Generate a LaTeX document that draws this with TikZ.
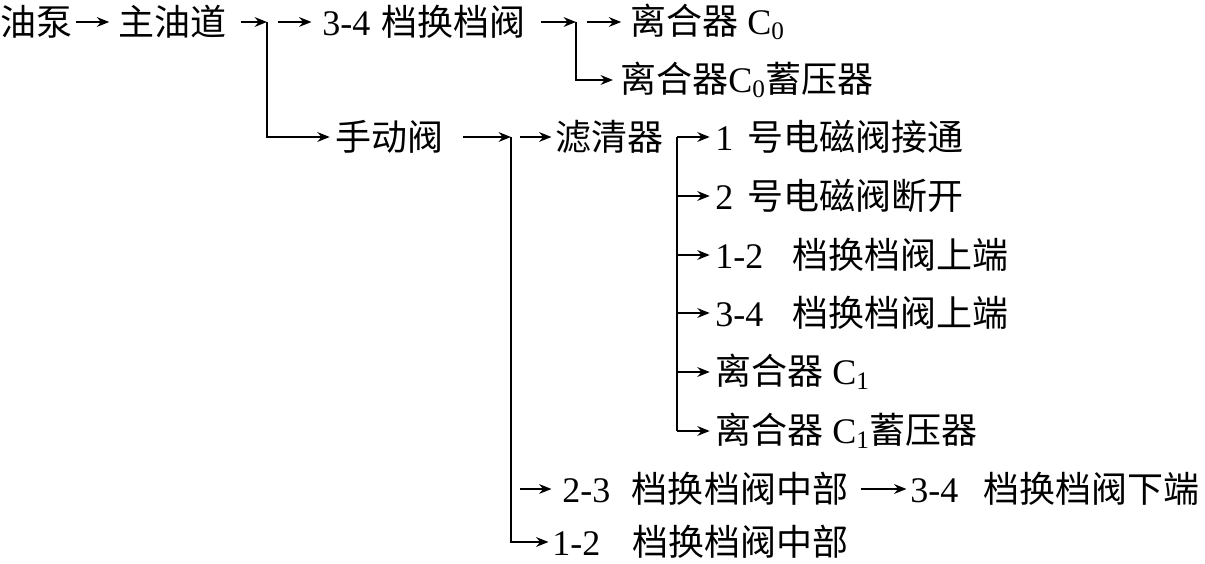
\documentclass[tikz,border=0pt]{standalone}
\usepackage{fontspec}
\setmainfont{Liberation Serif}
\newfontfamily\cjk{Noto Sans CJK SC}
\usetikzlibrary{arrows.meta}

\newcommand{\zh}[1]{{\cjk #1}}

\tikzset{
  txt/.style={anchor=west, inner sep=0pt, font=\fontsize{20.5}{24}\selectfont},
  conn/.style={line width=1.1pt},
  arr/.style={conn, -{Stealth[length=7pt,width=5.5pt]}}
}

\begin{document}
\begin{tikzpicture}[x=0.02cm, y=-0.02cm]
        \useasboundingbox (0,0) rectangle (1205,564);

        % Labels
        \node (pump) at (0,22) [txt] {\zh{油泵}};
        \node (main) at (118,22) [txt] {\zh{主油道}};
        \node (v34) at (322,22) [txt] {3-4\hspace{0.3em}\zh{档换档阀}};
        \node (c0) at (630,22) [txt] {\zh{离合器} C\textsubscript{0}};
        \node (c0acc) at (620,80) [txt] {\zh{离合器}C\textsubscript{0}\zh{蓄压器}};
        \node (manual) at (335,137) [txt] {\zh{手动阀}};
        \node (filter) at (555,137) [txt] {\zh{滤清器}};
        \node (s1) at (715,137) [txt] {1\hspace{0.4em}\zh{号电磁阀接通}};
        \node (s2) at (715,196) [txt] {2\hspace{0.4em}\zh{号电磁阀断开}};
        \node (v12top) at (715,255) [txt] {1-2\hspace{0.8em}\zh{档换档阀上端}};
        \node (v34top) at (715,313) [txt] {3-4\hspace{0.8em}\zh{档换档阀上端}};
        \node (c1) at (715,372) [txt] {\zh{离合器} C\textsubscript{1}};
        \node (c1acc) at (715,431) [txt] {\zh{离合器} C\textsubscript{1}\zh{蓄压器}};
        \node (v23mid) at (562,489) [txt] {2-3\hspace{0.6em}\zh{档换档阀中部}};
        \node (v34low) at (910,489) [txt] {3-4\hspace{0.7em}\zh{档换档阀下端}};
        \node (v12mid) at (552,542) [txt] {1-2\hspace{0.9em}\zh{档换档阀中部}};

        % Junctions
        \coordinate (j1) at (267,22);
        \coordinate (j2) at (576,22);
        \coordinate (j3) at (511,137);
        \coordinate (j4) at (677,137);

        % Connectors
        \draw[arr, shorten <=2pt, shorten >=5pt] (pump) -- (main);
        \draw[arr, shorten <=8pt] (main) -- (j1);
        \draw[arr, shorten <=6pt, shorten >=6pt] (j1) -- (v34);
        \draw[arr, shorten >=3pt] (j1) |- (manual);
        \draw[arr, shorten <=9pt] (v34) -- (j2);
        \draw[arr, shorten <=6pt, shorten >=5pt] (j2) -- (c0);
        \draw[arr, shorten >=4pt] (j2) |- (c0acc);
        \draw[arr, shorten <=11pt] (manual) -- (j3);
        \draw[arr, shorten <=5pt, shorten >=2pt] (j3) -- (filter);
        \draw[arr, shorten >=2pt] (j3) |- (v12mid);
        \draw[arr, shorten >=6pt] ([xshift=5pt]j3 |- v23mid) -- (v23mid);
        \draw[arr, shorten <=7pt, shorten >=2pt] (v23mid) -- (v34low);
        \draw[conn] (j4) -- (j4 |- c1acc);
        \foreach \n in {s1,s2,v12top,v34top,c1,c1acc}
          \draw[arr, shorten >=3pt] (j4 |- \n) -- (\n);
\end{tikzpicture}
\end{document}
